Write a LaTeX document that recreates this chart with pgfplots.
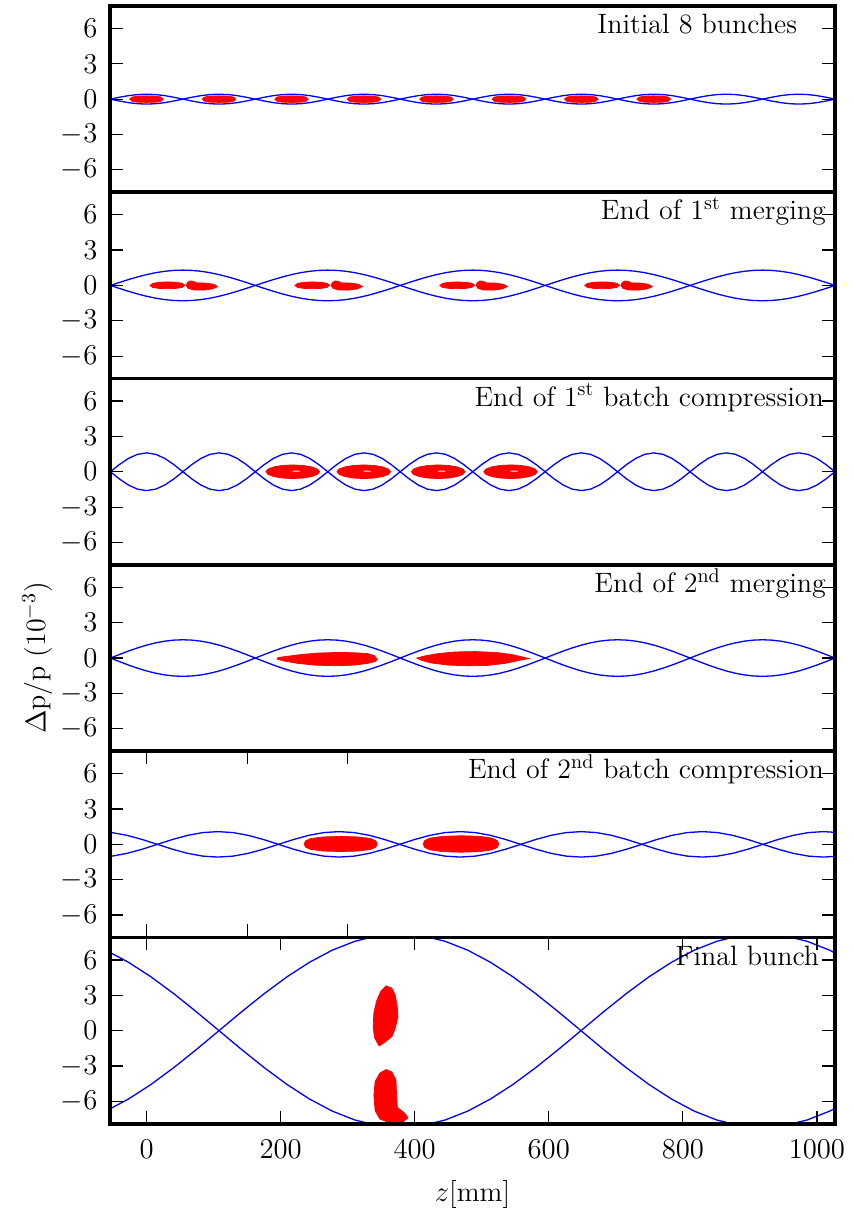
\documentclass[border=0pt]{standalone}
\usepackage{pgfplots}
\pgfplotsset{compat=1.18}
\usepackage{pgfplotstable}

\newcommand{\fs}{\fontsize{14bp}{16.8bp}\selectfont}

% separatrices, panels 1-4 (columns: z, upper/lower for panels 1,2,3,4)
\pgfplotstableread{
z p1 n1 p2 n2 p3 n3 p4 n4
-54.05 0 0 0 0 0 0 0 0
-40.54 0.161 -0.161 0.254 -0.254 0.612 -0.612 0.302 -0.302
-27.03 0.297 -0.297 0.497 -0.497 1.131 -1.131 0.593 -0.593
-13.51 0.388 -0.388 0.722 -0.722 1.478 -1.478 0.861 -0.861
0 0.42 -0.42 0.919 -0.919 1.6 -1.6 1.096 -1.096
13.51 0.388 -0.388 1.081 -1.081 1.478 -1.478 1.289 -1.289
27.03 0.297 -0.297 1.201 -1.201 1.131 -1.131 1.432 -1.432
40.54 0.161 -0.161 1.275 -1.275 0.612 -0.612 1.52 -1.52
54.05 0 0 1.3 -1.3 0 0 1.55 -1.55
67.56 0.161 -0.161 1.275 -1.275 0.612 -0.612 1.52 -1.52
81.08 0.297 -0.297 1.201 -1.201 1.131 -1.131 1.432 -1.432
94.59 0.388 -0.388 1.081 -1.081 1.478 -1.478 1.289 -1.289
108.1 0.42 -0.42 0.919 -0.919 1.6 -1.6 1.096 -1.096
121.61 0.388 -0.388 0.722 -0.722 1.478 -1.478 0.861 -0.861
135.13 0.297 -0.297 0.497 -0.497 1.131 -1.131 0.593 -0.593
148.64 0.161 -0.161 0.254 -0.254 0.612 -0.612 0.302 -0.302
162.15 0 0 0 0 0 0 0 0
175.66 0.161 -0.161 0.254 -0.254 0.612 -0.612 0.302 -0.302
189.18 0.297 -0.297 0.497 -0.497 1.131 -1.131 0.593 -0.593
202.69 0.388 -0.388 0.722 -0.722 1.478 -1.478 0.861 -0.861
216.2 0.42 -0.42 0.919 -0.919 1.6 -1.6 1.096 -1.096
229.71 0.388 -0.388 1.081 -1.081 1.478 -1.478 1.289 -1.289
243.23 0.297 -0.297 1.201 -1.201 1.131 -1.131 1.432 -1.432
256.74 0.161 -0.161 1.275 -1.275 0.612 -0.612 1.52 -1.52
270.25 0 0 1.3 -1.3 0 0 1.55 -1.55
283.76 0.161 -0.161 1.275 -1.275 0.612 -0.612 1.52 -1.52
297.28 0.297 -0.297 1.201 -1.201 1.131 -1.131 1.432 -1.432
310.79 0.388 -0.388 1.081 -1.081 1.478 -1.478 1.289 -1.289
324.3 0.42 -0.42 0.919 -0.919 1.6 -1.6 1.096 -1.096
337.81 0.388 -0.388 0.722 -0.722 1.478 -1.478 0.861 -0.861
351.33 0.297 -0.297 0.497 -0.497 1.131 -1.131 0.593 -0.593
364.84 0.161 -0.161 0.254 -0.254 0.612 -0.612 0.302 -0.302
378.35 0 0 0 0 0 0 0 0
391.86 0.161 -0.161 0.254 -0.254 0.612 -0.612 0.302 -0.302
405.38 0.297 -0.297 0.497 -0.497 1.131 -1.131 0.593 -0.593
418.89 0.388 -0.388 0.722 -0.722 1.478 -1.478 0.861 -0.861
432.4 0.42 -0.42 0.919 -0.919 1.6 -1.6 1.096 -1.096
445.91 0.388 -0.388 1.081 -1.081 1.478 -1.478 1.289 -1.289
459.43 0.297 -0.297 1.201 -1.201 1.131 -1.131 1.432 -1.432
472.94 0.161 -0.161 1.275 -1.275 0.612 -0.612 1.52 -1.52
486.45 0 0 1.3 -1.3 0 0 1.55 -1.55
499.96 0.161 -0.161 1.275 -1.275 0.612 -0.612 1.52 -1.52
513.48 0.297 -0.297 1.201 -1.201 1.131 -1.131 1.432 -1.432
526.99 0.388 -0.388 1.081 -1.081 1.478 -1.478 1.289 -1.289
540.5 0.42 -0.42 0.919 -0.919 1.6 -1.6 1.096 -1.096
554.01 0.388 -0.388 0.722 -0.722 1.478 -1.478 0.861 -0.861
567.53 0.297 -0.297 0.497 -0.497 1.131 -1.131 0.593 -0.593
581.04 0.161 -0.161 0.254 -0.254 0.612 -0.612 0.302 -0.302
594.55 0 0 0 0 0 0 0 0
608.06 0.161 -0.161 0.254 -0.254 0.612 -0.612 0.302 -0.302
621.58 0.297 -0.297 0.497 -0.497 1.131 -1.131 0.593 -0.593
635.09 0.388 -0.388 0.722 -0.722 1.478 -1.478 0.861 -0.861
648.6 0.42 -0.42 0.919 -0.919 1.6 -1.6 1.096 -1.096
662.11 0.388 -0.388 1.081 -1.081 1.478 -1.478 1.289 -1.289
675.63 0.297 -0.297 1.201 -1.201 1.131 -1.131 1.432 -1.432
689.14 0.161 -0.161 1.275 -1.275 0.612 -0.612 1.52 -1.52
702.65 0 0 1.3 -1.3 0 0 1.55 -1.55
716.16 0.161 -0.161 1.275 -1.275 0.612 -0.612 1.52 -1.52
729.68 0.297 -0.297 1.201 -1.201 1.131 -1.131 1.432 -1.432
743.19 0.388 -0.388 1.081 -1.081 1.478 -1.478 1.289 -1.289
756.7 0.42 -0.42 0.919 -0.919 1.6 -1.6 1.096 -1.096
770.21 0.388 -0.388 0.722 -0.722 1.478 -1.478 0.861 -0.861
783.73 0.297 -0.297 0.497 -0.497 1.131 -1.131 0.593 -0.593
797.24 0.161 -0.161 0.254 -0.254 0.612 -0.612 0.302 -0.302
810.75 0 0 0 0 0 0 0 0
824.26 0.161 -0.161 0.254 -0.254 0.612 -0.612 0.302 -0.302
837.78 0.297 -0.297 0.497 -0.497 1.131 -1.131 0.593 -0.593
851.29 0.388 -0.388 0.722 -0.722 1.478 -1.478 0.861 -0.861
864.8 0.42 -0.42 0.919 -0.919 1.6 -1.6 1.096 -1.096
878.31 0.388 -0.388 1.081 -1.081 1.478 -1.478 1.289 -1.289
891.83 0.297 -0.297 1.201 -1.201 1.131 -1.131 1.432 -1.432
905.34 0.161 -0.161 1.275 -1.275 0.612 -0.612 1.52 -1.52
918.85 0 0 1.3 -1.3 0 0 1.55 -1.55
932.36 0.161 -0.161 1.275 -1.275 0.612 -0.612 1.52 -1.52
945.88 0.297 -0.297 1.201 -1.201 1.131 -1.131 1.432 -1.432
959.39 0.388 -0.388 1.081 -1.081 1.478 -1.478 1.289 -1.289
972.9 0.42 -0.42 0.919 -0.919 1.6 -1.6 1.096 -1.096
986.41 0.388 -0.388 0.722 -0.722 1.478 -1.478 0.861 -0.861
999.93 0.297 -0.297 0.497 -0.497 1.131 -1.131 0.593 -0.593
1013.44 0.161 -0.161 0.254 -0.254 0.612 -0.612 0.302 -0.302
1026.95 0 0 0 0 0 0 0 0
}\tabA

% separatrix, panel 5
\pgfplotstableread{
z p n
-74.35 1.08 -1.08
-51.76 0.998 -0.998
-29.18 0.764 -0.764
-6.59 0.413 -0.413
16 0 0
38.59 0.413 -0.413
61.18 0.764 -0.764
83.76 0.998 -0.998
106.35 1.08 -1.08
128.94 0.998 -0.998
151.53 0.764 -0.764
174.11 0.413 -0.413
196.7 0 0
219.29 0.413 -0.413
241.88 0.764 -0.764
264.46 0.998 -0.998
287.05 1.08 -1.08
309.64 0.998 -0.998
332.23 0.764 -0.764
354.81 0.413 -0.413
377.4 0 0
399.99 0.413 -0.413
422.58 0.764 -0.764
445.16 0.998 -0.998
467.75 1.08 -1.08
490.34 0.998 -0.998
512.93 0.764 -0.764
535.51 0.413 -0.413
558.1 0 0
580.69 0.413 -0.413
603.28 0.764 -0.764
625.86 0.998 -0.998
648.45 1.08 -1.08
671.04 0.998 -0.998
693.63 0.764 -0.764
716.21 0.413 -0.413
738.8 0 0
761.39 0.413 -0.413
783.98 0.764 -0.764
806.56 0.998 -0.998
829.15 1.08 -1.08
851.74 0.998 -0.998
874.33 0.764 -0.764
896.91 0.413 -0.413
919.5 0 0
942.09 0.413 -0.413
964.68 0.764 -0.764
987.26 0.998 -0.998
1009.85 1.08 -1.08
1032.44 0.998 -0.998
}\tabE

% separatrix, panel 6
\pgfplotstableread{
z p n
-60.75 6.818 -6.818
-27 5.798 -5.798
6.75 4.556 -4.556
40.5 3.138 -3.138
74.25 1.6 -1.6
108 0 0
141.75 1.6 -1.6
175.5 3.138 -3.138
209.25 4.556 -4.556
243 5.798 -5.798
276.75 6.818 -6.818
310.5 7.576 -7.576
344.25 8.043 -8.043
378 8.2 -8.2
411.75 8.043 -8.043
445.5 7.576 -7.576
479.25 6.818 -6.818
513 5.798 -5.798
546.75 4.556 -4.556
580.5 3.138 -3.138
614.25 1.6 -1.6
648 0 0
681.75 1.6 -1.6
715.5 3.138 -3.138
749.25 4.556 -4.556
783 5.798 -5.798
816.75 6.818 -6.818
850.5 7.576 -7.576
884.25 8.043 -8.043
918 8.2 -8.2
951.75 8.043 -8.043
985.5 7.576 -7.576
1019.25 6.818 -6.818
1053 5.798 -5.798
}\tabF

\pgfplotsset{
  panel/.style={
    width=362.5bp, height=93.15bp, scale only axis,
    anchor=south west,
    xmin=-54.6, xmax=1027, ymin=-7.9, ymax=7.9,
    ytick={-6,-3,0,3,6},
    xtick=\empty,
    tick pos=both,
    yticklabel pos=left,
    xticklabel pos=lower,
    tick align=inside,
    major tick length=6.5bp,
    major tick style={black, line width=0.6bp},
    axis line style={black, line width=1.9bp},
    tick label style={font=\fs},
    yticklabel style={xshift=-2.8bp},
    xticklabel style={yshift=-4.8bp, /pgf/number format/1000 sep={}},
    axis on top,
  },
  sep/.style={color={rgb,255:red,0;green,0;blue,255}, line width=0.65bp, no markers},
  bunch/.style={color=red, fill=red, line width=0.35bp, no markers},
  hole/.style={draw=none, fill=white, no markers},
}
\tikzset{lab/.style={anchor=base east, inner sep=0pt, font=\fs}}

\begin{document}
\begin{tikzpicture}
\path[use as bounding box] (-55bp,-43.1bp) rectangle (372bp,561.9bp);

% ---------- Panel 1 ----------
\begin{axis}[panel, at={(0bp,465.75bp)}]
\addplot[sep] table[x=z,y=p1]{\tabA};
\addplot[sep] table[x=z,y=n1]{\tabA};
\addplot[bunch] coordinates {(25,0) (22,0.17) (14,0.26) (0,0.28) (-14,0.26) (-22,0.17) (-25,0) (-22,-0.17) (-14,-0.26) (0,-0.28) (14,-0.26) (22,-0.17)} -- cycle;
\addplot[bunch] coordinates {(133.1,0) (130.1,0.17) (122.1,0.26) (108.1,0.28) (94.1,0.26) (86.1,0.17) (83.1,0) (86.1,-0.17) (94.1,-0.26) (108.1,-0.28) (122.1,-0.26) (130.1,-0.17)} -- cycle;
\addplot[bunch] coordinates {(241.2,0) (238.2,0.17) (230.2,0.26) (216.2,0.28) (202.2,0.26) (194.2,0.17) (191.2,0) (194.2,-0.17) (202.2,-0.26) (216.2,-0.28) (230.2,-0.26) (238.2,-0.17)} -- cycle;
\addplot[bunch] coordinates {(349.3,0) (346.3,0.17) (338.3,0.26) (324.3,0.28) (310.3,0.26) (302.3,0.17) (299.3,0) (302.3,-0.17) (310.3,-0.26) (324.3,-0.28) (338.3,-0.26) (346.3,-0.17)} -- cycle;
\addplot[bunch] coordinates {(457.4,0) (454.4,0.17) (446.4,0.26) (432.4,0.28) (418.4,0.26) (410.4,0.17) (407.4,0) (410.4,-0.17) (418.4,-0.26) (432.4,-0.28) (446.4,-0.26) (454.4,-0.17)} -- cycle;
\addplot[bunch] coordinates {(565.5,0) (562.5,0.17) (554.5,0.26) (540.5,0.28) (526.5,0.26) (518.5,0.17) (515.5,0) (518.5,-0.17) (526.5,-0.26) (540.5,-0.28) (554.5,-0.26) (562.5,-0.17)} -- cycle;
\addplot[bunch] coordinates {(673.6,0) (670.6,0.17) (662.6,0.26) (648.6,0.28) (634.6,0.26) (626.6,0.17) (623.6,0) (626.6,-0.17) (634.6,-0.26) (648.6,-0.28) (662.6,-0.26) (670.6,-0.17)} -- cycle;
\addplot[bunch] coordinates {(781.7,0) (778.7,0.17) (770.7,0.26) (756.7,0.28) (742.7,0.26) (734.7,0.17) (731.7,0) (734.7,-0.17) (742.7,-0.26) (756.7,-0.28) (770.7,-0.26) (778.7,-0.17)} -- cycle;
\node[lab] at (axis cs:971,5.55) {Initial 8 bunches};
\end{axis}

% ---------- Panel 2 ----------
\begin{axis}[panel, at={(0bp,372.6bp)}]
\addplot[sep] table[x=z,y=p2]{\tabA};
\addplot[sep] table[x=z,y=n2]{\tabA};
\addplot[bunch] coordinates {(57,0.02) (53,0.18) (44,0.27) (31,0.3) (18,0.27) (9,0.17) (5,0) (9,-0.17) (18,-0.25) (31,-0.28) (44,-0.25) (53,-0.17)} -- cycle;
\addplot[bunch] coordinates {(59,0) (61,0.25) (65,0.38) (70,0.35) (74,0.22) (88,0.2) (100,0.1) (106,-0.1) (98,-0.3) (85,-0.4) (70,-0.38) (62,-0.25)} -- cycle;
\addplot[bunch] coordinates {(273.2,0.02) (269.2,0.18) (260.2,0.27) (247.2,0.3) (234.2,0.27) (225.2,0.17) (221.2,0) (225.2,-0.17) (234.2,-0.25) (247.2,-0.28) (260.2,-0.25) (269.2,-0.17)} -- cycle;
\addplot[bunch] coordinates {(275.2,0) (277.2,0.25) (281.2,0.38) (286.2,0.35) (290.2,0.22) (304.2,0.2) (316.2,0.1) (322.2,-0.1) (314.2,-0.3) (301.2,-0.4) (286.2,-0.38) (278.2,-0.25)} -- cycle;
\addplot[bunch] coordinates {(489.4,0.02) (485.4,0.18) (476.4,0.27) (463.4,0.3) (450.4,0.27) (441.4,0.17) (437.4,0) (441.4,-0.17) (450.4,-0.25) (463.4,-0.28) (476.4,-0.25) (485.4,-0.17)} -- cycle;
\addplot[bunch] coordinates {(491.4,0) (493.4,0.25) (497.4,0.38) (502.4,0.35) (506.4,0.22) (520.4,0.2) (532.4,0.1) (538.4,-0.1) (530.4,-0.3) (517.4,-0.4) (502.4,-0.38) (494.4,-0.25)} -- cycle;
\addplot[bunch] coordinates {(705.6,0.02) (701.6,0.18) (692.6,0.27) (679.6,0.3) (666.6,0.27) (657.6,0.17) (653.6,0) (657.6,-0.17) (666.6,-0.25) (679.6,-0.28) (692.6,-0.25) (701.6,-0.17)} -- cycle;
\addplot[bunch] coordinates {(707.6,0) (709.6,0.25) (713.6,0.38) (718.6,0.35) (722.6,0.22) (736.6,0.2) (748.6,0.1) (754.6,-0.1) (746.6,-0.3) (733.6,-0.4) (718.6,-0.38) (710.6,-0.25)} -- cycle;
\node[lab] at (axis cs:1014,5.55) {End of 1$^{\mathrm{st}}$ merging};
\end{axis}

% ---------- Panel 3 ----------
\begin{axis}[panel, at={(0bp,279.45bp)}]
\addplot[sep] table[x=z,y=p3]{\tabA};
\addplot[sep] table[x=z,y=n3]{\tabA};
\addplot[bunch] coordinates {(258,0) (255,0.222) (246.3,0.41) (233.3,0.536) (218,0.58) (202.7,0.536) (189.7,0.41) (181,0.222) (178,0) (181,-0.222) (189.7,-0.41) (202.7,-0.536) (218,-0.58) (233.3,-0.536) (246.3,-0.41) (255,-0.222)} -- cycle;
\addplot[bunch] coordinates {(364,0) (361,0.222) (352.3,0.41) (339.3,0.536) (324,0.58) (308.7,0.536) (295.7,0.41) (287,0.222) (284,0) (287,-0.222) (295.7,-0.41) (308.7,-0.536) (324,-0.58) (339.3,-0.536) (352.3,-0.41) (361,-0.222)} -- cycle;
\addplot[bunch] coordinates {(475,0) (472,0.222) (463.3,0.41) (450.3,0.536) (435,0.58) (419.7,0.536) (406.7,0.41) (398,0.222) (395,0) (398,-0.222) (406.7,-0.41) (419.7,-0.536) (435,-0.58) (450.3,-0.536) (463.3,-0.41) (472,-0.222)} -- cycle;
\addplot[bunch] coordinates {(583,0) (580,0.222) (571.3,0.41) (558.3,0.536) (543,0.58) (527.7,0.536) (514.7,0.41) (506,0.222) (503,0) (506,-0.222) (514.7,-0.41) (527.7,-0.536) (543,-0.58) (558.3,-0.536) (571.3,-0.41) (580,-0.222)} -- cycle;
\addplot[hole] coordinates {(229,0.04) (226,0.09) (221,0.1) (217,0.06) (219,0.01) (224,0) (228,0.01)} -- cycle;
\addplot[hole] coordinates {(335,0.04) (332,0.09) (327,0.1) (323,0.06) (325,0.01) (330,0) (334,0.01)} -- cycle;
\addplot[hole] coordinates {(446,0.04) (443,0.09) (438,0.1) (434,0.06) (436,0.01) (441,0) (445,0.01)} -- cycle;
\addplot[hole] coordinates {(554,0.04) (551,0.09) (546,0.1) (542,0.06) (544,0.01) (549,0) (553,0.01)} -- cycle;
\node[lab] at (axis cs:1011,5.55) {End of 1$^{\mathrm{st}}$ batch compression};
\end{axis}

% ---------- Panel 4 ----------
\begin{axis}[panel, at={(0bp,186.3bp)}]
\addplot[sep] table[x=z,y=p4]{\tabA};
\addplot[sep] table[x=z,y=n4]{\tabA};
\addplot[bunch] coordinates {(344,-0.1) (340,0.2) (330,0.38) (310,0.45) (285,0.48) (255,0.42) (230,0.3) (210,0.15) (196,0.05) (195,-0.1) (205,-0.25) (225,-0.45) (250,-0.6) (280,-0.65) (310,-0.6) (330,-0.45) (341,-0.3)} -- cycle;
\addplot[bunch] coordinates {(571,-0.05) (560,0.1) (545,0.3) (520,0.48) (490,0.55) (460,0.52) (435,0.38) (415,0.18) (403,0) (410,-0.2) (425,-0.42) (450,-0.6) (480,-0.66) (510,-0.62) (535,-0.45) (552,-0.25) (562,-0.12)} -- cycle;
\node[lab] at (axis cs:1014,5.55) {End of 2$^{\mathrm{nd}}$ merging};
\end{axis}

% ---------- Panel 5 ----------
\begin{axis}[panel, at={(0bp,93.15bp)}, xtick={0,150,300}, xticklabel=\empty]
\addplot[sep] table[x=z,y=p]{\tabE};
\addplot[sep] table[x=z,y=n]{\tabE};
\addplot[bunch] coordinates {(344,0.03) (341.8,0.3) (334.2,0.49) (315.7,0.63) (289.5,0.67) (263.3,0.63) (244.8,0.49) (237.2,0.3) (235,0.03) (237.2,-0.24) (244.8,-0.43) (263.3,-0.57) (289.5,-0.61) (315.7,-0.57) (334.2,-0.43) (341.8,-0.24)} -- cycle;
\addplot[bunch] coordinates {(525.5,0.03) (523.2,0.32) (515.3,0.53) (496.1,0.68) (469,0.73) (441.9,0.68) (422.7,0.53) (414.8,0.32) (412.5,0.03) (414.8,-0.26) (422.7,-0.47) (441.9,-0.62) (469,-0.67) (496.1,-0.62) (515.3,-0.47) (523.2,-0.26)} -- cycle;
\node[lab] at (axis cs:1011,5.55) {End of 2$^{\mathrm{nd}}$ batch compression};
\end{axis}

% ---------- Panel 6 ----------
\begin{axis}[panel, at={(0bp,0bp)}, xtick={0,200,400,600,800,1000}]
\addplot[sep] table[x=z,y=p]{\tabF};
\addplot[sep] table[x=z,y=n]{\tabF};
\addplot[bunch] coordinates {(357,3.8) (366,3.6) (371,3.0) (374,2.0) (375,1.2) (371,0.2) (366,-0.5) (355,-1.0) (347,-1.3) (340,-0.6) (338,0.3) (339,1.5) (343,2.5) (349,3.3)} -- cycle;
\addplot[bunch] coordinates {(357,-3.3) (366,-3.5) (372,-4.2) (373,-5.5) (374,-6.5) (385,-7.0) (390,-7.4) (382,-7.75) (362,-7.8) (348,-7.5) (341,-6.8) (339,-5.5) (341,-4.3) (348,-3.6)} -- cycle;
\node[lab] at (axis cs:1004,5.55) {Final bunch};
\end{axis}

\node[font=\fs, rotate=90] at (-36.25bp,232.9bp) {$\Delta$p/p (10$^{-3}$)};
\node[font=\fs] at (181.25bp,-35.1bp) {$z$[mm]};
\end{tikzpicture}
\end{document}
